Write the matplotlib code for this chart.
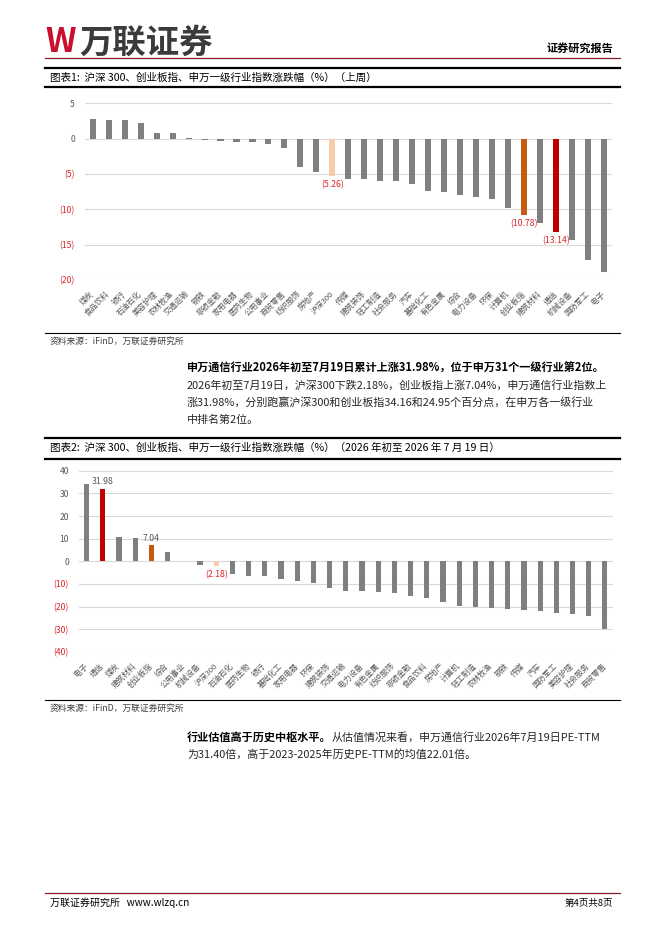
import matplotlib
matplotlib.use("Agg")
import matplotlib.pyplot as plt
from matplotlib.lines import Line2D
from matplotlib.ticker import FuncFormatter

plt.rcParams['font.family'] = ['Noto Sans CJK SC', 'DejaVu Sans']

# 图表1 数据（上周）
cats1 = ['煤炭', '食品饮料', '银行', '石油石化', '美容护理', '农林牧渔', '交通运输', '钢铁',
         '非银金融', '家用电器', '医药生物', '公用事业', '商贸零售', '纺织服饰', '房地产', '沪深300',
         '传媒', '建筑装饰', '轻工制造', '社会服务', '汽车', '基础化工', '有色金属', '综合',
         '电力设备', '环保', '计算机', '创业板指', '建筑材料', '通信', '机械设备', '国防军工', '电子']
vals1 = [2.78, 2.69, 2.69, 2.17, 0.85, 0.75, 0.05, -0.15,
         -0.35, -0.50, -0.50, -0.75, -1.27, -4.00, -4.75, -5.26,
         -5.65, -5.70, -5.98, -6.02, -6.45, -7.43, -7.62, -7.95,
         -8.24, -8.47, -9.79, -10.78, -12.00, -13.14, -14.40, -17.20, -18.80]

# 图表2 数据（2026年初至7月19日）
cats2 = ['电子', '通信', '煤炭', '建筑材料', '创业板指', '综合', '公用事业', '机械设备',
         '沪深300', '石油石化', '医药生物', '银行', '基础化工', '家用电器', '环保', '建筑装饰',
         '交通运输', '电力设备', '有色金属', '纺织服饰', '非银金融', '食品饮料', '房地产', '计算机',
         '轻工制造', '农林牧渔', '钢铁', '传媒', '汽车', '国防军工', '美容护理', '社会服务', '商贸零售']
vals2 = [34.1, 31.98, 10.7, 10.4, 7.04, 4.0, 0.15, -1.8,
         -2.18, -5.4, -6.6, -6.6, -7.6, -8.7, -9.4, -11.6,
         -12.9, -13.2, -13.5, -14.1, -15.1, -16.2, -18.1, -19.6,
         -20.3, -20.4, -20.9, -21.5, -21.8, -22.6, -23.1, -24.1, -29.9]

highlight = {'通信': '#c00000', '创业板指': '#c55a11', '沪深300': '#f8cbad'}
labelled = ['通信', '创业板指', '沪深300']

GRAY = '#7f7f7f'
TXT = '#595959'
RED = '#d9252a'

W, H = 662, 936
fig = plt.figure(figsize=(W / 100, H / 100), dpi=100)


def fx(x):
    return x / W


def fy(y):
    return 1 - y / H


def hline(y, x0=45, x1=620, lw=1.0, color='black'):
    fig.add_artist(Line2D([fx(x0), fx(x1)], [fy(y), fy(y)], lw=lw, color=color,
                          transform=fig.transFigure))


def acct(v, pos=None):
    if v < 0:
        return '(%d)' % abs(v)
    return '%d' % v


def fmt_label(v):
    return '(%.2f)' % abs(v) if v < 0 else '%.2f' % v


def draw_chart(rect, cats, vals, ylim, step, width):
    ax = fig.add_axes(rect)
    colors = [highlight.get(c, GRAY) for c in cats]
    x = range(len(cats))
    bars = ax.bar(x, vals, width=width, color=colors, zorder=3)
    ax.set_xlim(-0.5, len(cats) - 0.5)
    ax.set_ylim(*ylim)
    ax.set_yticks(range(ylim[0], ylim[1] + 1, step))
    ax.yaxis.set_major_formatter(FuncFormatter(acct))
    ax.grid(axis='y', color='#d9d9d9', lw=0.8, zorder=0)
    for s in ax.spines.values():
        s.set_visible(False)
    ax.tick_params(axis='both', length=0, labelsize=6.2, pad=7)
    for t, v in zip(ax.get_yticklabels(), ax.get_yticks()):
        t.set_color(RED if v < 0 else TXT)
    ax.set_xticks(list(x))
    ax.set_xticklabels(cats, rotation=45, ha='right', va='center',
                       rotation_mode='anchor', fontsize=5.6, color=TXT)
    ax.tick_params(axis='x', pad=9)
    for b, c, v in zip(bars, cats, vals):
        if c in labelled:
            if v < 0:
                ax.annotate(fmt_label(v), (b.get_x() + b.get_width() / 2, v),
                            xytext=(0, -3), textcoords='offset points',
                            ha='center', va='top', fontsize=6.3, color=RED)
            else:
                ax.annotate(fmt_label(v), (b.get_x() + b.get_width() / 2, v),
                            xytext=(0, 2), textcoords='offset points',
                            ha='center', va='bottom', fontsize=6.3, color=TXT)
    return ax


# 页眉
fig.text(fx(45), fy(43), 'W', fontsize=24, fontweight='bold', color='#c8102e',
         style='italic', va='center', ha='left')
fig.text(fx(79), fy(43), '万联证券', fontsize=24, fontweight='bold', color='#3b3b3b',
         va='center', ha='left')
fig.text(fx(613), fy(48), '证券研究报告', fontsize=8, fontweight='bold', color='black',
         va='center', ha='right')
hline(57.5, lw=0.9, color='#8b1a2b')

# 图表1
hline(67.5, lw=1.6)
fig.text(fx(50), fy(77.5), '图表1:  沪深 300、创业板指、申万一级行业指数涨跌幅（%）（上周）',
         fontsize=7.6, va='center', ha='left')
hline(87, lw=1.6)
draw_chart([fx(84.7), fy(280), (612 - 84.7) / W, (280 - 103.3) / H],
           cats1, vals1, (-20, 5), 5, 0.38)
hline(333, lw=0.8)
fig.text(fx(50), fy(341), '资料来源：iFinD，万联证券研究所', fontsize=6.3, style='italic',
         color='#404040', va='center', ha='left')

# 正文1
px = 187
fig.text(fx(px), fy(368), '申万通信行业2026年初至7月19日累计上涨31.98%，位于申万31个一级行业第2位。',
         fontsize=8.0, fontweight='bold', va='center', ha='left')
body1 = ['2026年初至7月19日，沪深300下跌2.18%，创业板指上涨7.04%，申万通信行业指数上',
         '涨31.98%，分别跑赢沪深300和创业板指34.16和24.95个百分点，在申万各一级行业',
         '中排名第2位。']
for i, line in enumerate(body1):
    fig.text(fx(px), fy(385 + 17.3 * i), line, fontsize=7.9, color='#262626',
             va='center', ha='left')

# 图表2
hline(437.5, lw=1.6)
fig.text(fx(50), fy(448), '图表2:  沪深 300、创业板指、申万一级行业指数涨跌幅（%）（2026 年初至 2026 年 7 月 19 日）',
         fontsize=7.6, va='center', ha='left')
hline(458.5, lw=1.6)
draw_chart([fx(78.6), fy(652), (613 - 78.6) / W, (652 - 470.7) / H],
           cats2, vals2, (-40, 40), 10, 0.32)
hline(700, lw=0.8)
fig.text(fx(50), fy(708), '资料来源：iFinD，万联证券研究所', fontsize=6.3, style='italic',
         color='#404040', va='center', ha='left')

# 正文2
t = fig.text(fx(px), fy(737), '行业估值高于历史中枢水平。', fontsize=8.0, fontweight='bold',
             va='center', ha='left')
r = fig.canvas.get_renderer()
bb = t.get_window_extent(renderer=r)
fig.text(bb.x1 / fig.bbox.width, fy(737), '从估值情况来看，申万通信行业2026年7月19日PE-TTM',
         fontsize=7.9, color='#262626', va='center', ha='left')
fig.text(fx(px), fy(754), '为31.40倍，高于2023-2025年历史PE-TTM的均值22.01倍。',
         fontsize=7.9, color='#262626', va='center', ha='left')

# 页脚
hline(893, lw=0.9, color='#8b1a2b')
fig.text(fx(50), fy(903), '万联证券研究所   www.wlzq.cn', fontsize=7.2, va='center', ha='left')
fig.text(fx(613), fy(903), '第4页共8页', fontsize=6.8, va='center', ha='right')

fig.savefig('out.png', dpi=100)
